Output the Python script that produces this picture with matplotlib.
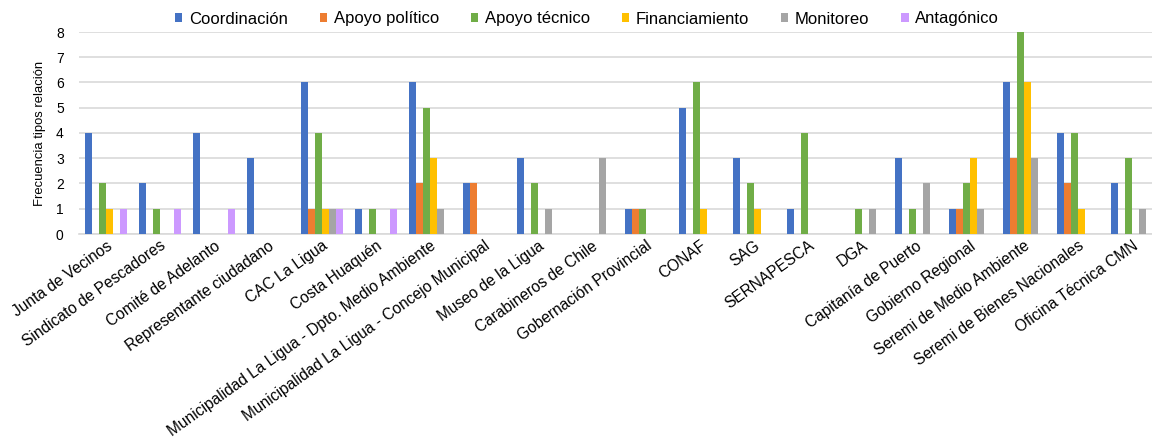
import numpy as np
import matplotlib
matplotlib.use("Agg")
import matplotlib.pyplot as plt

plt.rcParams['font.family'] = ['Liberation Sans', 'DejaVu Sans']

# === Données
actores = [
    "Junta de Vecinos", "Sindicato de Pescadores", "Comité de Adelanto",
    "Representante ciudadano", "CAC La Ligua", "Costa Huaquén",
    "Municipalidad La Ligua - Dpto. Medio Ambiente",
    "Municipalidad La Ligua - Concejo Municipal", "Museo de la Ligua",
    "Carabineros de Chile", "Gobernación Provincial", "CONAF", "SAG",
    "SERNAPESCA", "DGA", "Capitanía de Puerto", "Gobierno Regional",
    "Seremi de Medio Ambiente", "Seremi de Bienes Nacionales",
    "Oficina Técnica CMN",
]

coordinacion   = [4, 2, 4, 3, 6, 1, 6, 2, 3, 0, 1, 5, 3, 1, 0, 3, 1, 6, 4, 2]
apoyo_politico = [0, 0, 0, 0, 1, 0, 2, 2, 0, 0, 1, 0, 0, 0, 0, 0, 1, 3, 2, 0]
apoyo_tecnico  = [2, 1, 0, 0, 4, 1, 5, 0, 2, 0, 1, 6, 2, 4, 1, 1, 2, 8, 4, 3]
financiamiento = [1, 0, 0, 0, 1, 0, 3, 0, 0, 0, 0, 1, 1, 0, 0, 0, 3, 6, 1, 0]
monitoreo      = [0, 0, 0, 0, 1, 0, 1, 0, 1, 3, 0, 0, 0, 0, 1, 2, 1, 3, 0, 1]
antagonico     = [1, 1, 1, 0, 1, 1, 0, 0, 0, 0, 0, 0, 0, 0, 0, 0, 0, 0, 0, 0]

series = [
    ("Coordinación", coordinacion, '#4472C4'),
    ("Apoyo político", apoyo_politico, '#ED7D31'),
    ("Apoyo técnico", apoyo_tecnico, '#70AD47'),
    ("Financiamiento", financiamiento, '#FFC000'),
    ("Monitoreo", monitoreo, '#A5A5A5'),
    ("Antagónico", antagonico, '#CC99FF'),
]

# === Figure (le graphique est coupé à droite comme l'original)
fig = plt.figure(figsize=(11.52, 4.44), dpi=100)
ax = fig.add_axes([79 / 1152, 1 - 234 / 444, 1080 / 1152, 202 / 444])

x = np.arange(len(actores))
n = len(series)
w = 0.76 / n
for i, (nom, vals, col) in enumerate(series):
    ax.bar(x + (i - (n - 1) / 2) * w, vals, width=w, color=col, label=nom, zorder=3)

ax.set_xlim(-0.5, len(actores) - 0.5)
ax.set_ylim(0, 8)
ax.set_yticks(range(0, 9))
ax.yaxis.grid(True, color='#D9D9D9', linewidth=1.2, zorder=0)
ax.tick_params(axis='y', length=0, labelsize=10, pad=11)
ax.tick_params(axis='x', length=0, labelsize=11.2, pad=3)
for s in ['top', 'right', 'left']:
    ax.spines[s].set_visible(False)
ax.spines['bottom'].set_color('#D9D9D9')
ax.spines['bottom'].set_linewidth(1.2)

ax.set_xticks(x)
ax.set_xticklabels(actores, rotation=35.5, ha='right', rotation_mode='anchor')
ax.set_ylabel("Frecuencia tipos relación", fontsize=9.4, labelpad=7)

fig.legend(loc='center', bbox_to_anchor=(587 / 1152, 1 - 19 / 444), ncol=6, frameon=False,
           fontsize=12, handlelength=0.45, handleheight=0.45, handletextpad=0.4,
           columnspacing=1.9)

fig.savefig("out.png", dpi=100)
